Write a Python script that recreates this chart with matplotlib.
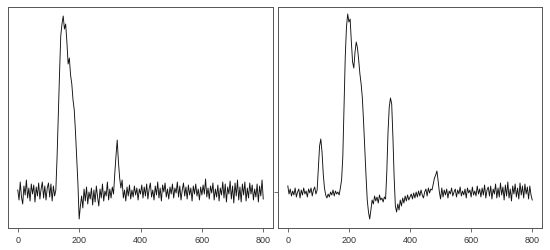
import numpy as np
import matplotlib
matplotlib.use("Agg")
import matplotlib.pyplot as plt

plt.rcParams["font.family"] = ["Liberation Sans", "DejaVu Sans"]

# signal values, one sample every 4 units along x
left_vals = [
    2, -8, 10, -5, -12, 6, -3, 12, -6, 4, -9, 8, -2, 7, -10, 5, -4, 9, -7, 3,
    10, -6, 6, -8, 4, 9, -5, 8, -9, 6, -4, 2, 35, 78, 118, 156, 168, 176, 163, 168,
    150, 128, 134, 117, 108, 92, 82, 60, 35, 8, -27, -14, -4, -16, 3, -9, 5, -12, 0, -7,
    4, -13, 2, -10, 6, -5, -14, 3, -6, 8, -9, 1, -4, 10, -8, 3, -6, 5, -2, 18,
    36, 52, 30, 14, 4, 12, -6, 2, -9, 5, -4, 7, -7, 2, -5, 6, -3, 4, -8, 3,
    -2, 7, -6, 5, -4, 8, -7, 3, 9, -5, 2, -8, 6, -3, 10, -6, 4, -9, 7, 0,
    9, -5, 3, -7, 5, -2, 8, -6, 4, -1, 10, -5, 6, -8, 2, 9, -4, 5, -7, 7,
    -3, 4, -9, 6, -2, 8, -4, 3, -8, 5, -3, 7, -2, 13, -5, 4, -7, 6, -1, 9,
    -8, 3, -5, 7, -9, 4, -3, 10, -6, 8, -10, 5, -2, 11, -7, 6, -11, 9, -4, 12,
    -8, 5, -10, 8, -3, 10, -9, 4, -6, 9, -2, 7, -8, 3, -5, 8, -10, 6, -4, 12,
    -7,
]
right_vals = [
    6, -2, 3, -4, 1, -3, 4, -5, 0, 3, -6, 2, -3, 4, -2, 1, -5, 3, -1, 4,
    -4, 2, 5, -2, 2, 25, 46, 53, 40, 18, 4, -3, -6, -2, -5, 0, -3, 2, -4, 1,
    -2, 0, -3, 4, 12, 35, 85, 135, 165, 178, 170, 173, 150, 130, 124, 140, 150, 144, 132, 118,
    108, 94, 70, 42, 16, -8, -20, -27, -18, -8, -12, -4, -9, -5, -11, -3, -8, -6, -10, -5,
    -7, 20, 60, 85, 94, 88, 55, 15, -14, -20, -12, -18, -8, -14, -6, -11, -4, -9, -3, -8,
    -5, -2, -7, -1, -6, 0, -5, 1, -4, 2, -3, -6, 0, 3, -4, 4, -1, 3, 2, 8,
    14, 17, 21, 11, 0, -7, 4, -5, 2, -3, 3, -6, 1, -2, 4, -4, 0, 3, -5, 2,
    -2, 5, -4, 1, -3, 3, -6, 4, -1, 2, -5, 5, -3, 1, -4, 6, -2, 3, -5, 4,
    -3, 7, -6, 2, 5, -4, 6, -7, 3, -2, 8, -6, 4, -5, 9, -3, 5, -8, 7, -4,
    10, -6, 3, -9, 6, -2, 8, -5, 4, -7, 9, -3, 6, -6, 8, -2, 5, -7, 6, -3,
    -8,
]
x_ticks = [0, 200, 400, 600, 800]

fig = plt.figure(figsize=(5.5, 2.5), dpi=100)
ax1 = fig.add_axes([0.0145, 0.088, 0.482, 0.884])
ax2 = fig.add_axes([0.5055, 0.088, 0.48, 0.884])

for ax, vals in [(ax1, left_vals), (ax2, right_vals)]:
    x = np.arange(len(vals)) * 4
    ax.plot(x, vals, color="#111111", lw=0.65)
    ax.set_xlim(-32, 832)
    ax.set_ylim(-36, 185)
    ax.set_xticks(x_ticks)
    ax.tick_params(axis="x", labelsize=6.5, length=3, width=0.6,
                   color="#555555", labelcolor="#333333", pad=3)
    for s in ax.spines.values():
        s.set_color("#555555")
        s.set_linewidth(0.7)

ax1.set_yticks([])
# right panel shows a lone tick mark at the baseline
ax2.set_yticks([0])
ax2.set_yticklabels([""])
ax2.tick_params(axis="y", length=3, width=0.6, color="#555555")

fig.savefig("out.png", dpi=100)
